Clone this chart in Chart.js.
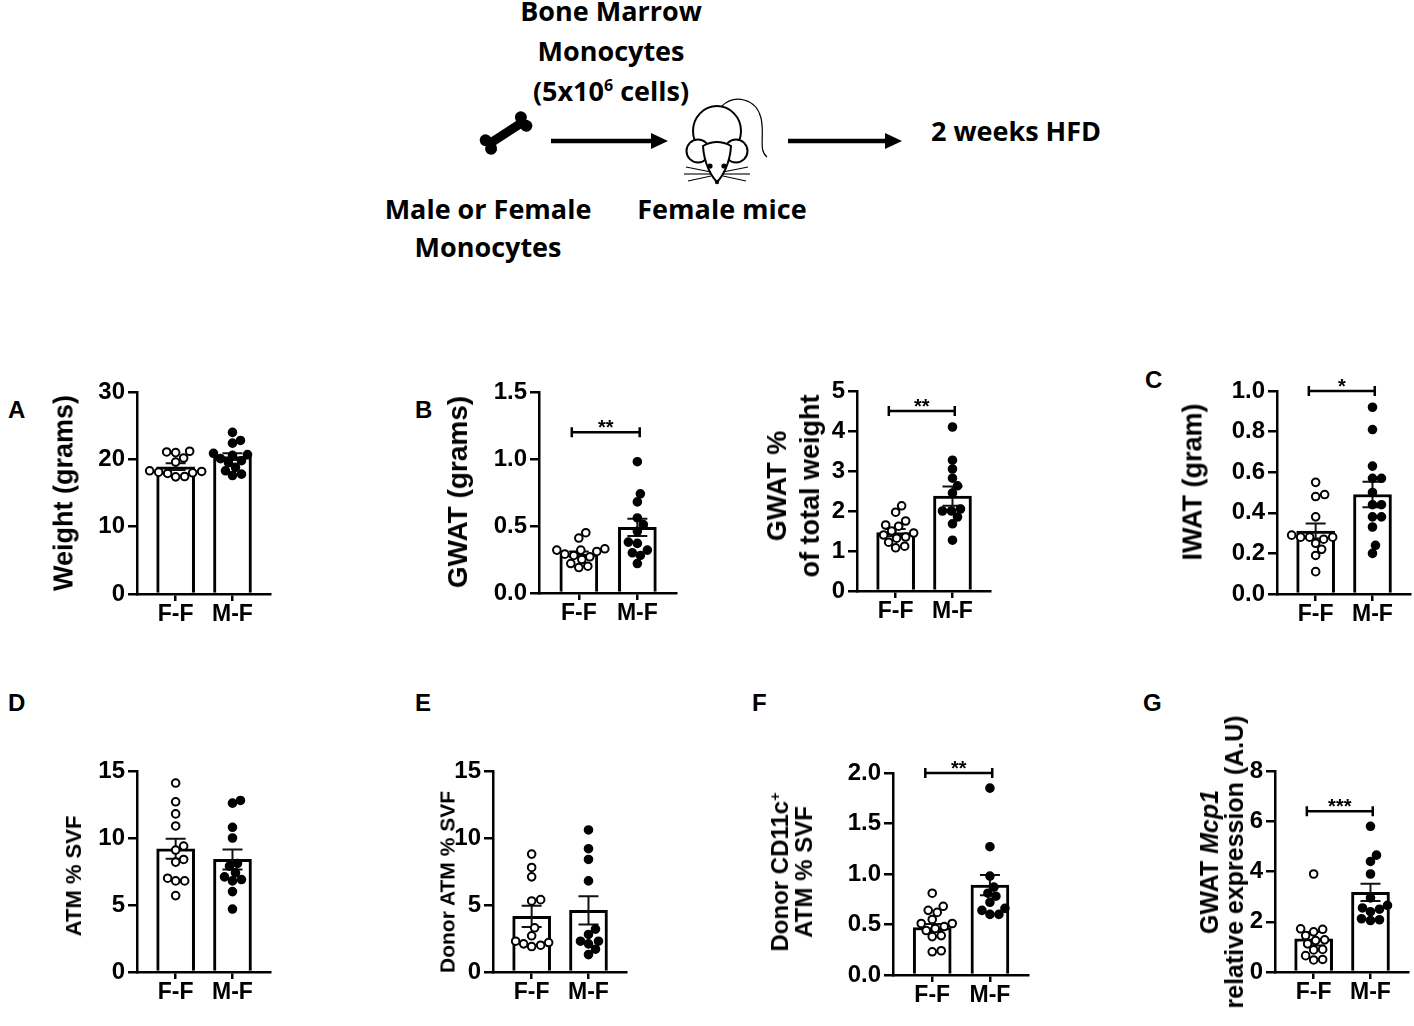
<!DOCTYPE html>
<html>
<head>
<meta charset="utf-8">
<script src="https://cdn.jsdelivr.net/npm/chart.js@4.4.1/dist/chart.umd.min.js"></script>
<style>
body { margin: 0; background: #fff; }
#page { position: relative; width: 1414px; height: 1026px; overflow: hidden; background: #fff; font-family: 'Liberation Sans', Arial, sans-serif; color: #000; }
.sch { position: absolute; font-family: 'Open Sans', sans-serif; font-weight: 700; font-size: 27px; line-height: 40px; text-align: center; white-space: nowrap; transform: translateX(-50%); }
.sch sup { font-size: 16px; line-height: 0; vertical-align: 10px; }
.ytitle { position: absolute; font-weight: 700; white-space: nowrap; text-align: center; transform: translate(-50%, -50%) rotate(-90deg); }
.ytitle sup { font-size: 60%; line-height: 0; vertical-align: 0.55em; }
.letter { position: absolute; font-weight: 700; font-size: 24px; line-height: 24px; }
canvas { position: absolute; }
</style>
</head>
<body>
<div id="page">
  <svg width="1414" height="280" style="position:absolute;left:0;top:0">
    <g transform="translate(506,133) rotate(-33)" fill="#000">
      <rect x="-20" y="-4.5" width="40" height="9"/>
      <circle cx="-21" cy="-5" r="6"/><circle cx="-21" cy="5" r="6"/>
      <circle cx="21" cy="-5" r="6"/><circle cx="21" cy="5" r="6"/>
    </g>
    <line x1="551" y1="141" x2="654" y2="141" stroke="#000" stroke-width="4.5"/>
    <polygon points="651,133 668,141 651,149" fill="#000"/>
    <line x1="788" y1="141" x2="888" y2="141" stroke="#000" stroke-width="4.5"/>
    <polygon points="885,133 902,141 885,149" fill="#000"/>
    <g fill="none" stroke="#000">
      <path d="M722,106 C734,94 756,98 761,118 C765,136 758,150 767,157" stroke-width="1.2"/>
      <ellipse cx="717" cy="131" rx="24" ry="25" fill="#fff" stroke-width="2"/>
      <circle cx="698" cy="151" r="11.5" fill="#fff" stroke-width="2"/>
      <circle cx="736" cy="151" r="11.5" fill="#fff" stroke-width="2"/>
      <path d="M703,146 C704,163 711,176 717,182 C723,176 730,163 731,146 C722,141 712,141 703,146 Z" fill="#fff" stroke-width="2"/>
      <g stroke-width="1.1">
        <line x1="711" y1="172" x2="686" y2="167"/><line x1="711" y1="174" x2="684" y2="174"/>
        <line x1="711" y1="176" x2="688" y2="181"/>
        <line x1="723" y1="172" x2="748" y2="167"/><line x1="723" y1="174" x2="750" y2="174"/>
        <line x1="723" y1="176" x2="746" y2="181"/>
      </g>
    </g>
    <circle cx="710" cy="166" r="2.6" fill="#000"/>
    <circle cx="724" cy="166" r="2.6" fill="#000"/>
    <circle cx="717" cy="182" r="2.2" fill="#000"/>
  </svg>
  <div class="sch" style="left:611px;top:-9px">Bone Marrow<br>Monocytes<br>(5x10<sup>6</sup> cells)</div>
  <div class="sch" style="left:488px;top:190px;line-height:38px">Male or Female<br>Monocytes</div>
  <div class="sch" style="left:722px;top:189px">Female mice</div>
  <div class="sch" style="left:1016px;top:111px">2 weeks HFD</div>

  <div class="letter" style="left:8px;top:398px">A</div>
  <div class="letter" style="left:415px;top:398px">B</div>
  <div class="letter" style="left:1145px;top:368px">C</div>
  <div class="letter" style="left:8px;top:691px">D</div>
  <div class="letter" style="left:415px;top:691px">E</div>
  <div class="letter" style="left:752px;top:691px">F</div>
  <div class="letter" style="left:1143px;top:691px">G</div>
</div>
<script>
// ---- data ----
const cats = ['F-F', 'M-F'];

// A: body weight (grams)
const weightFF = [21.2, 21.1, 21.0, 20.2, 19.6, 18.3, 18.2, 18.1, 18.0, 17.9, 17.45, 17.4];
const weightMF = [24.0, 22.8, 22.4, 20.9, 20.7, 20.6, 20.1, 19.8, 19.5, 18.8, 18.3, 17.8, 17.6];
const weightMean = [18.9, 20.4];
const weightSem = [0.5, 0.5];

// B: GWAT (grams)
const gwatFF = [0.45, 0.41, 0.33, 0.32, 0.32, 0.31, 0.29, 0.28, 0.27, 0.25, 0.22, 0.20, 0.19];
const gwatMF = [0.98, 0.74, 0.68, 0.56, 0.51, 0.46, 0.38, 0.37, 0.32, 0.30, 0.28, 0.22];
const gwatMean = [0.29, 0.49];
const gwatSem = [0.02, 0.065];

// B: GWAT % of total weight
const gwatPctFF = [2.13, 1.97, 1.75, 1.65, 1.62, 1.45, 1.50, 1.40, 1.35, 1.32, 1.22, 1.12, 1.08];
const gwatPctMF = [4.10, 3.27, 3.05, 2.82, 2.63, 2.45, 2.05, 2.00, 2.00, 1.85, 1.68, 1.27];
const gwatPctMean = [1.46, 2.37];
const gwatPctSem = [0.09, 0.24];

// C: IWAT (gram)
const iwatFF = [0.55, 0.49, 0.48, 0.38, 0.29, 0.28, 0.28, 0.28, 0.27, 0.25, 0.22, 0.19, 0.11];
const iwatMF = [0.92, 0.81, 0.63, 0.57, 0.57, 0.50, 0.44, 0.44, 0.38, 0.38, 0.33, 0.24, 0.20];
const iwatMean = [0.31, 0.49];
const iwatSem = [0.037, 0.063];

// D: ATM % SVF
const atmFF = [14.1, 12.7, 11.8, 10.9, 9.4, 9.1, 8.4, 8.2, 7.0, 6.8, 6.8, 5.7];
const atmMF = [12.8, 12.6, 10.8, 10.0, 8.1, 7.9, 7.4, 7.1, 6.9, 6.8, 6.0, 4.7];
const atmMean = [9.2, 8.4];
const atmSem = [0.75, 0.75];

// E: donor ATM % SVF
const donorFF = [8.8, 7.8, 7.1, 5.4, 5.3, 3.3, 2.7, 2.3, 2.2, 2.1, 2.0, 1.9];
const donorMF = [10.6, 9.2, 8.4, 6.8, 3.2, 2.8, 2.3, 2.3, 2.1, 1.7, 1.3];
const donorMean = [4.15, 4.6];
const donorSem = [0.8, 1.05];

// F: donor CD11c+ ATM % SVF
const cd11cFF = [0.81, 0.68, 0.64, 0.62, 0.55, 0.48, 0.51, 0.51, 0.46, 0.44, 0.39, 0.38, 0.24, 0.23];
const cd11cMF = [1.85, 1.27, 0.98, 0.87, 0.81, 0.78, 0.72, 0.66, 0.64, 0.60, 0.60];
const cd11cMean = [0.47, 0.89];
const cd11cSem = [0.035, 0.1];

// G: GWAT Mcp1 relative expression
const mcp1FF = [3.9, 1.72, 1.70, 1.60, 1.45, 1.28, 1.25, 1.12, 0.90, 0.88, 0.65, 0.50, 0.48];
const mcp1MF = [5.8, 4.65, 4.4, 3.9, 2.95, 2.65, 2.55, 2.5, 2.4, 2.12, 2.08, 2.05];
const mcp1Mean = [1.32, 3.17];
const mcp1Sem = [0.27, 0.34];

// ---- layout ----
const YW = 80, XH = 40, PADT = 30, PADR = 4, DOT = 8.4;
const FONT = "'Liberation Sans', Arial, sans-serif";
Chart.defaults.font.family = FONT;
Chart.defaults.color = '#000';

const panels = [
  { ax: 137, top: 392, bottom: 594, right: 272, max: 30, step: 10, dec: 0, ff: weightFF, mf: weightMF, mean: weightMean, sem: weightSem,
    title: 'Weight (grams)', tx: 64, ty: 493, fs: 27 },
  { ax: 539, top: 392, bottom: 593, right: 678, max: 1.5, step: 0.5, dec: 1, ff: gwatFF, mf: gwatMF, mean: gwatMean, sem: gwatSem,
    sig: { y: 1.2, text: '**' }, title: 'GWAT (grams)', tx: 458, ty: 492, fs: 28 },
  { ax: 857, top: 391, bottom: 591, right: 992, max: 5, step: 1, dec: 0, ff: gwatPctFF, mf: gwatPctMF, mean: gwatPctMean, sem: gwatPctSem,
    sig: { y: 4.5, text: '**' }, title: 'GWAT %<br>of total weight', tx: 794, ty: 486, fs: 27, lh: 33 },
  { ax: 1277, top: 391, bottom: 594, right: 1412, max: 1.0, step: 0.2, dec: 1, ff: iwatFF, mf: iwatMF, mean: iwatMean, sem: iwatSem,
    sig: { y: 1.0, text: '*' }, title: 'IWAT (gram)', tx: 1193, ty: 482, fs: 27 },
  { ax: 137, top: 771, bottom: 972, right: 272, max: 15, step: 5, dec: 0, ff: atmFF, mf: atmMF, mean: atmMean, sem: atmSem,
    title: 'ATM % SVF', tx: 74, ty: 876, fs: 22 },
  { ax: 493, top: 771, bottom: 972, right: 628, max: 15, step: 5, dec: 0, ff: donorFF, mf: donorMF, mean: donorMean, sem: donorSem,
    title: 'Donor ATM % SVF', tx: 447, ty: 882, fs: 21 },
  { ax: 893, top: 773, bottom: 975, right: 1030, max: 2.0, step: 0.5, dec: 1, ff: cd11cFF, mf: cd11cMF, mean: cd11cMean, sem: cd11cSem,
    sig: { y: 2.0, text: '**' }, title: 'Donor CD11c<sup>+</sup><br>ATM % SVF', tx: 792, ty: 872, fs: 24, lh: 24 },
  { ax: 1275, top: 771, bottom: 972, right: 1410, max: 8, step: 2, dec: 0, ff: mcp1FF, mf: mcp1MF, mean: mcp1Mean, sem: mcp1Sem,
    sig: { y: 6.4, text: '***' }, title: 'GWAT <i>Mcp1</i><br>relative expression (A.U)', tx: 1222, ty: 862, fs: 25, lh: 25 }
];

// error bars (mean +/- SEM) under the dots, and the significance bracket
const extras = {
  id: 'extras',
  beforeDatasetDraw(chart, args, opts) {
    if (args.index !== 0) return;
    const ctx = chart.ctx, xs = chart.scales.x, ys = chart.scales.y;
    ctx.save();
    ctx.strokeStyle = '#111';
    ctx.lineWidth = 2;
    opts.mean.forEach((m, i) => {
      const x = xs.getPixelForValue(i);
      const y1 = ys.getPixelForValue(m + opts.sem[i]);
      const y2 = ys.getPixelForValue(m - opts.sem[i]);
      ctx.beginPath();
      ctx.moveTo(x, y1); ctx.lineTo(x, y2);
      ctx.moveTo(x - 10, y1); ctx.lineTo(x + 10, y1);
      ctx.moveTo(x - 10, y2); ctx.lineTo(x + 10, y2);
      ctx.stroke();
    });
    ctx.restore();
  },
  afterDatasetsDraw(chart, args, opts) {
    if (!opts.sig) return;
    const ctx = chart.ctx, xs = chart.scales.x, ys = chart.scales.y;
    const x0 = xs.getPixelForValue(-0.12), x1 = xs.getPixelForValue(1.04);
    const y = ys.getPixelForValue(opts.sig.y);
    ctx.save();
    ctx.strokeStyle = '#000';
    ctx.lineWidth = 2.5;
    ctx.beginPath();
    ctx.moveTo(x0, y); ctx.lineTo(x1, y);
    ctx.moveTo(x0, y - 5); ctx.lineTo(x0, y + 5);
    ctx.moveTo(x1, y - 5); ctx.lineTo(x1, y + 5);
    ctx.stroke();
    ctx.fillStyle = '#000';
    ctx.font = 'bold 20px ' + FONT;
    ctx.textAlign = 'center';
    ctx.textBaseline = 'alphabetic';
    ctx.fillText(opts.sig.text, (x0 + x1) / 2, y + 2);
    ctx.restore();
  }
};

// spread the dots sideways so they do not overlap (beeswarm)
function spreadDots(chart, groups) {
  const xs = chart.scales.x, ys = chart.scales.y;
  const unit = xs.getPixelForValue(1) - xs.getPixelForValue(0);
  const ds = chart.data.datasets[0];
  let k = 0;
  groups.forEach((vals, g) => {
    const placed = [];
    const offs = new Array(vals.length);
    const order = vals.map((v, i) => i).sort((a, b) => vals[a] - vals[b]);
    order.forEach(i => {
      const py = ys.getPixelForValue(vals[i]);
      for (let s = 0; s < 400; s++) {
        const dx = (s % 2 ? 1 : -1) * Math.ceil(s / 2);
        if (placed.every(q => (q.x - dx) ** 2 + (q.y - py) ** 2 >= DOT * DOT)) {
          placed.push({ x: dx, y: py });
          offs[i] = dx;
          break;
        }
      }
    });
    vals.forEach((v, i) => { ds.data[k++].x = g + offs[i] / unit; });
  });
  chart.update('none');
}

const page = document.getElementById('page');
const tickFont = { family: FONT, size: 24, weight: 'bold' };
const catFont = { family: FONT, size: 23, weight: 'bold' };

panels.forEach(p => {
  const cv = document.createElement('canvas');
  cv.width = YW + (p.right - p.ax) + PADR;
  cv.height = PADT + (p.bottom - p.top) + XH;
  cv.style.left = (p.ax - YW) + 'px';
  cv.style.top = (p.top - PADT) + 'px';
  page.appendChild(cv);

  const t = document.createElement('div');
  t.className = 'ytitle';
  t.style.left = p.tx + 'px';
  t.style.top = p.ty + 'px';
  t.style.fontSize = p.fs + 'px';
  t.style.lineHeight = (p.lh || p.fs) + 'px';
  t.innerHTML = p.title;
  page.appendChild(t);

  const groups = [p.ff, p.mf];
  const pts = [], fills = [];
  groups.forEach((vals, g) => vals.forEach(v => {
    pts.push({ x: g, y: v });
    fills.push(g ? '#000' : '#fff');
  }));

  const chart = new Chart(cv, {
    type: 'bar',
    data: {
      datasets: [
        {
          type: 'scatter',
          data: pts,
          order: 1,
          pointRadius: 3.8,
          pointBorderWidth: 2,
          pointBackgroundColor: fills,
          pointBorderColor: '#000',
          clip: false
        },
        {
          type: 'bar',
          data: p.mean.map((m, i) => ({ x: i, y: m })),
          order: 2,
          backgroundColor: '#fff',
          borderColor: '#000',
          borderWidth: 3,
          barThickness: 38
        }
      ]
    },
    plugins: [extras],
    options: {
      responsive: false,
      animation: false,
      layout: { padding: { top: PADT, right: PADR, left: 0, bottom: 0 } },
      plugins: {
        legend: { display: false },
        tooltip: { enabled: false },
        extras: { mean: p.mean, sem: p.sem, sig: p.sig }
      },
      scales: {
        x: {
          type: 'linear',
          min: -0.68,
          max: 1.66,
          offset: false,
          afterBuildTicks: s => { s.ticks = [{ value: 0 }, { value: 1 }]; },
          afterFit: s => { s.height = XH; },
          ticks: { callback: v => cats[v], font: catFont, color: '#000', padding: 0, autoSkip: false, maxRotation: 0 },
          grid: { offset: false, drawOnChartArea: false, tickLength: 7, color: '#000', lineWidth: 2.5 },
          border: { color: '#000', width: 2.5 }
        },
        y: {
          min: 0,
          max: p.max,
          afterFit: s => { s.width = YW; },
          ticks: { stepSize: p.step, callback: v => v.toFixed(p.dec), font: tickFont, color: '#000', padding: 3 },
          grid: { drawOnChartArea: false, tickLength: 9, color: '#000', lineWidth: 2.5 },
          border: { color: '#000', width: 2.5 }
        }
      }
    }
  });
  spreadDots(chart, groups);
});
</script>
</body>
</html>
